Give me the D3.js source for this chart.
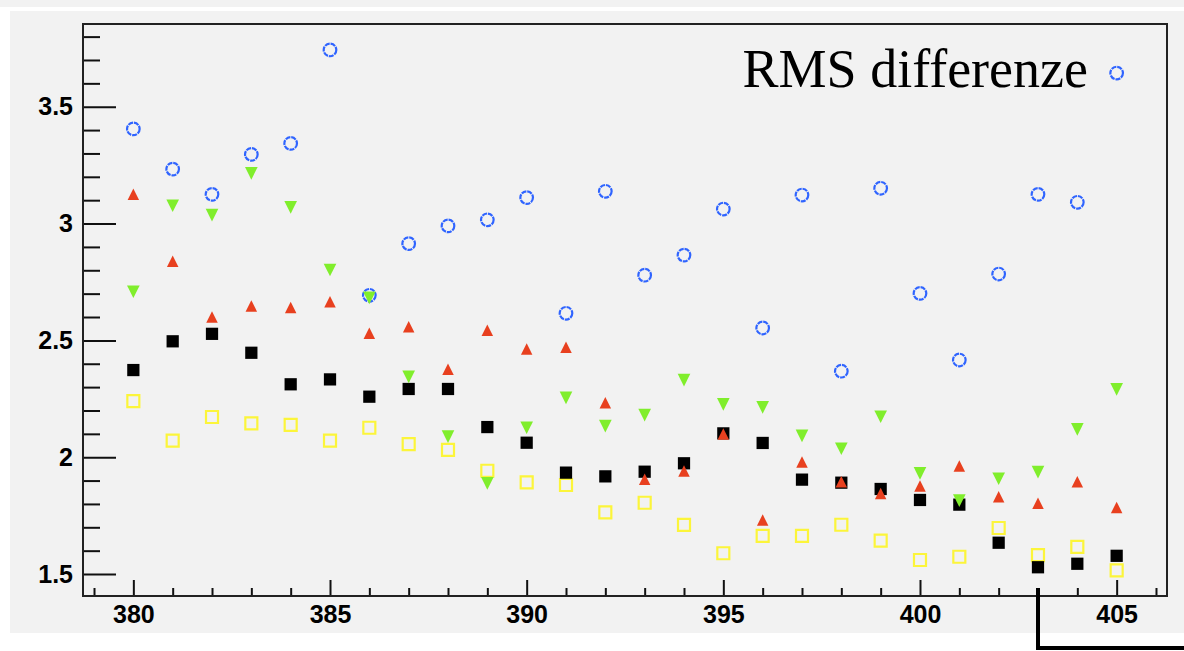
<!DOCTYPE html>
<html>
<head>
<meta charset="utf-8">
<script src="https://cdn.jsdelivr.net/npm/d3@7"></script>
<style>
  html, body { margin: 0; padding: 0; background: #ffffff; }
  svg { display: block; }
</style>
</head>
<body>
<svg id="chart" width="1184" height="651"></svg>
<script>
// wavelength bins
const xValues = [380, 381, 382, 383, 384, 385, 386, 387, 388, 389, 390, 391, 392,
                 393, 394, 395, 396, 397, 398, 399, 400, 401, 402, 403, 404, 405];

// series
const blueCircles = [3.405, 3.233, 3.125, 3.296, 3.343, 3.743, 2.693, 2.914, 2.990,
                     3.016, 3.111, 2.616, 3.138, 2.779, 2.865, 3.062, 2.553, 3.122,
                     2.368, 3.151, 2.701, 2.416, 2.784, 3.125, 3.091, 3.644];
const redUp = [3.125, 2.839, 2.600, 2.647, 2.641, 2.665, 2.530, 2.558, 2.376, 2.543,
               2.463, 2.471, 2.233, 1.906, 1.941, 2.099, 1.731, 1.979, 1.895, 1.845,
               1.877, 1.962, 1.831, 1.803, 1.895, 1.785];
const greenDown = [2.708, 3.076, 3.036, 3.215, 3.069, 2.801, 2.682, 2.344, 2.088, 1.888,
                   2.126, 2.254, 2.133, 2.180, 2.330, 2.226, 2.213, 2.091, 2.036, 2.173,
                   1.931, 1.814, 1.908, 1.936, 2.119, 2.290];
const blackSquares = [2.373, 2.496, 2.528, 2.447, 2.312, 2.333, 2.259, 2.292, 2.292, 2.129,
                      2.062, 1.934, 1.918, 1.938, 1.974, 2.102, 2.061, 1.904, 1.891, 1.864,
                      1.817, 1.797, 1.634, 1.529, 1.544, 1.578];
const yellowSquares = [2.240, 2.071, 2.172, 2.145, 2.138, 2.071, 2.126, 2.056, 2.031, 1.942,
                       1.892, 1.881, 1.764, 1.805, 1.710, 1.589, 1.663, 1.663, 1.711, 1.643,
                       1.560, 1.574, 1.697, 1.581, 1.616, 1.516];

const xMajorTicks = [380, 385, 390, 395, 400, 405];
const yMajorTicks = [1.5, 2, 2.5, 3, 3.5];
const labelText = "RMS differenze";

const svg = d3.select("#chart");

// frame geometry
const frameLeft = 83, frameRight = 1167, frameTop = 24, frameBottom = 596;

// backgrounds
svg.append("rect").attr("x", 0).attr("y", 0).attr("width", 1184).attr("height", 7)
    .attr("fill", "#f2f2f2");
svg.append("rect").attr("x", 10).attr("y", 11).attr("width", 1174).attr("height", 622)
    .attr("fill", "#f2f2f2");

const x = d3.scaleLinear().domain([378.72, 406.28]).range([frameLeft, frameRight]);
const y = d3.scaleLinear().domain([1.406, 3.854]).range([frameBottom, frameTop]);

// minor ticks (every unit on x, every 0.1 on y)
const xMinor = d3.range(379, 407).filter(v => v % 5 !== 0);
const yMinor = d3.range(15, 39).map(v => v / 10).filter(v => v % 0.5 !== 0);

const axisFont = "'Liberation Sans', Arial, Helvetica, sans-serif";
const tickColor = "#111", tickWidth = 2;

svg.append("g")
    .attr("transform", `translate(0,${frameBottom})`)
    .call(d3.axisBottom(x).tickValues(xMinor).tickSize(-8).tickFormat(""))
    .call(g => g.select(".domain").remove())
    .call(g => g.selectAll("line").attr("stroke", tickColor).attr("stroke-width", tickWidth));

svg.append("g")
    .attr("transform", `translate(0,${frameBottom})`)
    .call(d3.axisBottom(x).tickValues(xMajorTicks).tickSize(-16).tickPadding(9)
        .tickFormat(d3.format("d")))
    .call(g => g.select(".domain").remove())
    .call(g => g.selectAll("line").attr("stroke", tickColor).attr("stroke-width", tickWidth))
    .call(g => g.selectAll("text").attr("font-family", axisFont)
        .attr("font-weight", "bold").attr("font-size", 25).attr("fill", "#000"));

svg.append("g")
    .attr("transform", `translate(${frameLeft},0)`)
    .call(d3.axisLeft(y).tickValues(yMinor).tickSize(-17).tickFormat(""))
    .call(g => g.select(".domain").remove())
    .call(g => g.selectAll("line").attr("stroke", tickColor).attr("stroke-width", tickWidth));

svg.append("g")
    .attr("transform", `translate(${frameLeft},0)`)
    .call(d3.axisLeft(y).tickValues(yMajorTicks).tickSize(-33).tickPadding(10)
        .tickFormat(d => String(d)))
    .call(g => g.select(".domain").remove())
    .call(g => g.selectAll("line").attr("stroke", tickColor).attr("stroke-width", tickWidth))
    .call(g => g.selectAll("text").attr("font-family", axisFont)
        .attr("font-weight", "bold").attr("font-size", 25).attr("fill", "#000"));

// frame box
svg.append("rect")
    .attr("x", frameLeft).attr("y", frameTop)
    .attr("width", frameRight - frameLeft).attr("height", frameBottom - frameTop)
    .attr("fill", "none").attr("stroke", "#222").attr("stroke-width", 2);

// marker shapes, centred on their bounding box like ROOT does
const triUp = {
    draw(ctx, size) {
        const w = Math.sqrt(size);
        ctx.moveTo(0, -w / 2);
        ctx.lineTo(w / 2, w / 2);
        ctx.lineTo(-w / 2, w / 2);
        ctx.closePath();
    }
};
const triDown = {
    draw(ctx, size) {
        const w = Math.sqrt(size);
        ctx.moveTo(-w / 2, -w / 2);
        ctx.lineTo(w / 2, -w / 2);
        ctx.lineTo(0, w / 2);
        ctx.closePath();
    }
};

const plot = svg.append("g");

function drawSeries(values, type, size, fill, stroke, strokeWidth) {
    plot.append("g")
        .selectAll("path")
        .data(values)
        .join("path")
        .attr("transform", (d, i) => `translate(${x(xValues[i])},${y(d)})`)
        .attr("d", d3.symbol(type, size))
        .attr("fill", fill)
        .attr("stroke", stroke)
        .attr("stroke-width", strokeWidth);
}

drawSeries(yellowSquares, d3.symbolSquare, 144, "none", "#fcf53a", 2.2);
drawSeries(blackSquares, d3.symbolSquare, 150, "#000", "none", 0);

plot.append("g")
    .selectAll("circle")
    .data(blueCircles)
    .join("circle")
    .attr("cx", (d, i) => x(xValues[i]))
    .attr("cy", d => y(d))
    .attr("r", 6.3)
    .attr("fill", "none")
    .attr("stroke", "#2f64ff")
    .attr("stroke-width", 2.2)
    .attr("stroke-dasharray", "5 0.9");

drawSeries(redUp, triUp, 132, "#e8401f", "none", 0);
drawSeries(greenDown, triDown, 160, "#80ee2c", "none", 0);

// annotation text
svg.append("text")
    .attr("x", 1088).attr("y", 87)
    .attr("text-anchor", "end")
    .attr("font-family", "'Liberation Serif', 'Times New Roman', serif")
    .attr("font-size", 54)
    .attr("fill", "#000")
    .text(labelText);

// bracket line at the bottom right
svg.append("path")
    .attr("d", d3.line()([[1038, 588], [1038, 648], [1184, 648]]))
    .attr("fill", "none")
    .attr("stroke", "#000")
    .attr("stroke-width", 4);
</script>
</body>
</html>
